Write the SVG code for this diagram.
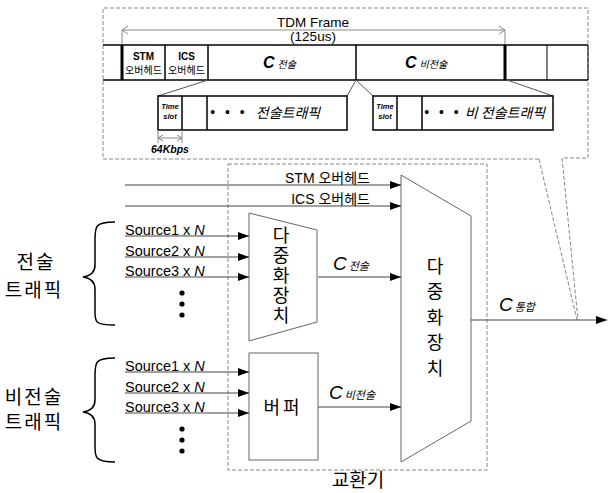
<svg xmlns="http://www.w3.org/2000/svg" width="608" height="493" viewBox="0 0 608 493">
<defs>
<marker id="ah" markerUnits="userSpaceOnUse" markerWidth="12" markerHeight="8" refX="11" refY="4" orient="auto">
<path d="M0,0 L11,4 L0,8 z" fill="#000"/>
</marker>
<style>
.sans{font-family:"Liberation Sans","Noto Sans CJK KR",Arial,sans-serif;}
.kr{font-family:"Noto Sans CJK KR","Liberation Sans",sans-serif;}
.dash{fill:none;stroke:#888;stroke-width:1;stroke-dasharray:4,2;}
.ln{stroke:#444;stroke-width:1;fill:none;}
.shape{fill:#fff;stroke:#666;stroke-width:1;}
.cell{stroke:#000;stroke-width:1.5;fill:none;}
.thin{stroke:#888;stroke-width:1;fill:none;}
.vert{writing-mode:vertical-rl;text-orientation:upright;}
</style>
</defs>
<rect width="608" height="493" fill="#fff"/>

<!-- outer dashed frame with callout -->
<g id="frame-box">
<polyline class="dash" points="539,159 103,159 103,8 588,8 588,158 562,158"/>
<line class="dash" x1="539" y1="159" x2="577" y2="320"/>
<line class="dash" x1="562" y1="158" x2="578" y2="320"/>
</g>

<!-- TDM frame -->
<g id="tdm-frame">
<line class="thin" x1="122" y1="30" x2="505" y2="30"/>
<polyline class="thin" points="128,26 122,30 128,34"/>
<polyline class="thin" points="499,26 505,30 499,34"/>
<line class="thin" x1="122" y1="30" x2="122" y2="45"/>
<line class="thin" x1="505" y1="30" x2="505" y2="45"/>
<text class="sans" x="313" y="27" font-size="13.5" text-anchor="middle">TDM Frame</text>
<text class="sans" x="313" y="41" font-size="13.5" text-anchor="middle">(125us)</text>
<line class="cell" x1="103" y1="45" x2="588" y2="45"/>
<line class="cell" x1="103" y1="80" x2="588" y2="80"/>
<line stroke="#000" stroke-width="3" x1="122" y1="45" x2="122" y2="80"/>
<line class="cell" x1="165" y1="45" x2="165" y2="80"/>
<line class="cell" x1="208" y1="45" x2="208" y2="80"/>
<line class="cell" x1="356" y1="45" x2="356" y2="80"/>
<line stroke="#000" stroke-width="3" x1="505" y1="45" x2="505" y2="80"/>
<line stroke="#000" stroke-width="1" x1="547" y1="45" x2="547" y2="80"/>
<line stroke="#000" stroke-width="1" x1="588" y1="45" x2="588" y2="80"/>
<text class="sans" font-size="10" text-anchor="middle"><tspan x="143.5" y="59.5" font-weight="bold">STM</tspan><tspan class="kr" x="143.5" y="73.5">오버헤드</tspan></text>
<text class="sans" font-size="10" text-anchor="middle"><tspan x="186.5" y="59.5" font-weight="bold">ICS</tspan><tspan class="kr" x="186.5" y="73.5">오버헤드</tspan></text>
<text class="sans" x="263" y="68" font-size="16" font-weight="bold" font-style="italic">C<tspan class="kr" font-size="10" font-weight="normal" dx="3">전술</tspan></text>
<text class="sans" x="405" y="68" font-size="16" font-weight="bold" font-style="italic">C<tspan class="kr" font-size="10" font-weight="normal" dx="3">비전술</tspan></text>
</g>

<!-- sub-frames -->
<g id="subframes">
<line stroke="#555" stroke-width="1" x1="208" y1="80" x2="158" y2="96"/>
<line stroke="#555" stroke-width="1" x1="356" y1="80" x2="347" y2="96"/>
<line stroke="#555" stroke-width="1" x1="356" y1="80" x2="373" y2="96"/>
<line stroke="#555" stroke-width="1" x1="507" y1="80" x2="553" y2="96"/>
<rect class="cell" x="158" y="96" width="189" height="34"/>
<line class="cell" x1="182" y1="96" x2="182" y2="130"/>
<line class="cell" x1="207" y1="96" x2="207" y2="130"/>
<text class="sans" font-size="7.5" font-weight="bold" font-style="italic" text-anchor="middle"><tspan x="170" y="109">Time</tspan><tspan x="170" y="119">slot</tspan></text>
<text class="sans" x="229" y="117" font-size="14" text-anchor="middle" letter-spacing="3">• • •</text>
<text class="kr" x="288" y="118" font-size="14" font-style="italic" text-anchor="middle">전술트래픽</text>
<rect class="cell" x="373" y="96" width="180" height="34"/>
<line class="cell" x1="397" y1="96" x2="397" y2="130"/>
<line class="cell" x1="422" y1="96" x2="422" y2="130"/>
<text class="sans" font-size="7.5" font-weight="bold" font-style="italic" text-anchor="middle"><tspan x="385" y="109">Time</tspan><tspan x="385" y="119">slot</tspan></text>
<text class="sans" x="443" y="117" font-size="14" text-anchor="middle" letter-spacing="3">• • •</text>
<text class="kr" x="505" y="118" font-size="14" font-style="italic" text-anchor="middle">비 전술트래픽</text>
<line class="thin" x1="158" y1="130" x2="158" y2="143"/>
<line class="thin" x1="182" y1="130" x2="182" y2="143"/>
<line class="thin" x1="158" y1="138" x2="182" y2="138"/>
<polyline class="thin" points="163,135 158,138 163,141"/>
<polyline class="thin" points="177,135 182,138 177,141"/>
<text class="sans" x="170" y="153" font-size="10.5" font-weight="bold" font-style="italic" text-anchor="middle">64Kbps</text>
</g>

<!-- switch dashed box -->
<g id="switch">
<rect class="dash" x="228" y="164" width="259" height="306"/>
<text class="kr" x="358" y="487" font-size="19" text-anchor="middle">교환기</text>
</g>

<!-- left group labels -->
<g id="tactical-label">
<path d="M115,222 C95,222 95,226 95,240 L95,265 C95,272 90,276 83,277 C90,278 95,282 95,289 L95,312 C95,322 95,325 115,325" fill="none" stroke="#000" stroke-width="1.5"/>
<text class="kr" x="36" y="269" font-size="19" text-anchor="middle" letter-spacing="2">전술</text>
<text class="kr" x="34" y="297" font-size="19" text-anchor="middle" letter-spacing="2">트래픽</text>
</g>
<g id="nontactical-label">
<path d="M115,358 C95,358 95,362 95,376 L95,400 C95,407 90,411 83,412 C90,413 95,417 95,424 L95,447 C95,457 95,462 115,462" fill="none" stroke="#000" stroke-width="1.5"/>
<text class="kr" x="34" y="404" font-size="19" text-anchor="middle" letter-spacing="2">비전술</text>
<text class="kr" x="34" y="429" font-size="19" text-anchor="middle" letter-spacing="2">트래픽</text>
</g>

<!-- nodes -->
<g id="mux-tactical">
<polygon class="shape" points="249,213 317,230 317,322 249,341"/>
<text class="kr vert" x="281" y="226" font-size="18" letter-spacing="2">다중화장치</text>
</g>
<g id="buffer">
<rect class="shape" x="249" y="353" width="69" height="107"/>
<text class="kr" x="283" y="414" font-size="18" text-anchor="middle" letter-spacing="3">버퍼</text>
</g>
<g id="mux-main">
<polygon class="shape" points="401,175 471,216 471,421 401,462"/>
<text class="kr vert" x="435" y="257" font-size="18" letter-spacing="7.5">다중화장치</text>
</g>

<!-- connectors -->
<g id="connectors" class="sans">
<line class="ln" x1="125" y1="185" x2="401" y2="185" marker-end="url(#ah)"/>
<text x="370" y="183" font-size="14" text-anchor="end">STM <tspan class="kr">오버헤드</tspan></text>
<line class="ln" x1="125" y1="206" x2="401" y2="206" marker-end="url(#ah)"/>
<text x="370" y="204" font-size="14" text-anchor="end">ICS <tspan class="kr">오버헤드</tspan></text>

<line class="ln" x1="125" y1="236" x2="249" y2="236" marker-end="url(#ah)"/>
<text x="125" y="235" font-size="14.5">Source1 x <tspan font-style="italic">N</tspan></text>
<line class="ln" x1="125" y1="257" x2="249" y2="257" marker-end="url(#ah)"/>
<text x="125" y="256" font-size="14.5">Source2 x <tspan font-style="italic">N</tspan></text>
<line class="ln" x1="125" y1="277" x2="249" y2="277" marker-end="url(#ah)"/>
<text x="125" y="276" font-size="14.5">Source3 x <tspan font-style="italic">N</tspan></text>
<circle cx="182" cy="293" r="2.6"/>
<circle cx="182" cy="304" r="2.6"/>
<circle cx="182" cy="315" r="2.6"/>

<line class="ln" x1="125" y1="372" x2="249" y2="372" marker-end="url(#ah)"/>
<text x="125" y="371" font-size="14.5">Source1 x <tspan font-style="italic">N</tspan></text>
<line class="ln" x1="125" y1="393" x2="249" y2="393" marker-end="url(#ah)"/>
<text x="125" y="392" font-size="14.5">Source2 x <tspan font-style="italic">N</tspan></text>
<line class="ln" x1="125" y1="413" x2="249" y2="413" marker-end="url(#ah)"/>
<text x="125" y="412" font-size="14.5">Source3 x <tspan font-style="italic">N</tspan></text>
<circle cx="182" cy="429" r="2.6"/>
<circle cx="182" cy="440" r="2.6"/>
<circle cx="182" cy="451" r="2.6"/>

<line class="ln" x1="318" y1="277" x2="401" y2="277" marker-end="url(#ah)"/>
<text x="333" y="270" font-size="19" font-style="italic">C<tspan class="kr" font-size="11" dx="2">전술</tspan></text>
<line class="ln" x1="318" y1="407" x2="401" y2="407" marker-end="url(#ah)"/>
<text x="329" y="399" font-size="19" font-style="italic">C<tspan class="kr" font-size="11" dx="2">비전술</tspan></text>
<line class="ln" x1="471" y1="320" x2="607" y2="320" marker-end="url(#ah)"/>
<text x="499" y="311" font-size="19" font-style="italic">C<tspan class="kr" font-size="11" dx="2">통합</tspan></text>
</g>
</svg>
